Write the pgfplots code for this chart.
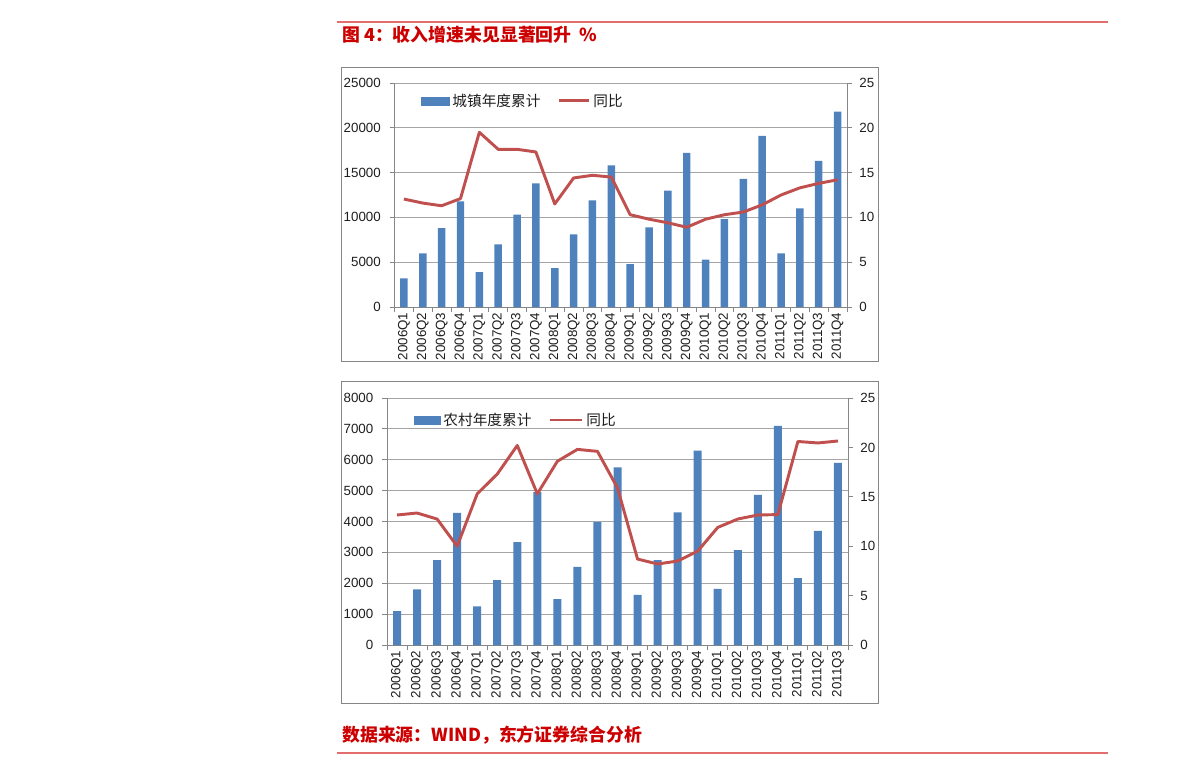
\documentclass[border=0pt]{standalone}
\usepackage{pgfplots}
\pgfplotsset{compat=1.18}
\usepackage{pgfplotstable}
\usepackage{fontspec}
\setmainfont{Liberation Sans}
\newfontfamily\cjk{Noto Sans CJK SC}

\definecolor{barblue}{RGB}{79,129,189}
\definecolor{linered}{RGB}{192,80,77}
\definecolor{titlered}{RGB}{204,0,0}
\definecolor{rulered}{RGB}{228,110,110}
\definecolor{framegray}{RGB}{134,134,134}
\definecolor{gridgray}{RGB}{165,165,165}
\definecolor{labelgray}{RGB}{30,30,30}

\pgfplotstableread{
x val yoy
0 3200 12.05
1 6000 11.6
2 8800 11.3
3 11800 12.1
4 3900 19.5
5 7000 17.6
6 10300 17.6
7 13800 17.3
8 4350 11.5
9 8100 14.4
10 11900 14.7
11 15800 14.5
12 4800 10.3
13 8900 9.8
14 13000 9.4
15 17200 8.9
16 5300 9.8
17 9800 10.3
18 14300 10.6
19 19100 11.4
20 6000 12.5
21 11000 13.3
22 16300 13.8
23 21800 14.2
}\urban

\pgfplotstableread{
x val yoy
0 1100 13.16
1 1800 13.36
2 2750 12.75
3 4280 10.0
4 1250 15.3
5 2100 17.3
6 3330 20.2
7 4950 15.3
8 1490 18.6
9 2530 19.8
10 3980 19.6
11 5750 15.9
12 1620 8.7
13 2750 8.2
14 4300 8.5
15 6300 9.5
16 1820 11.9
17 3070 12.75
18 4860 13.16
19 7100 13.2
20 2170 20.6
21 3700 20.45
22 5900 20.65
}\rural

\pgfplotsset{
  excelbase/.style={
    scale only axis,
    xmin=-0.5,
    tick align=outside,
    axis line style={framegray, line width=0.75pt},
    every tick/.style={framegray, line width=0.75pt},
    major tick length=3.75pt,
    minor tick length=3.75pt,
    tick label style={font=\fontsize{10}{12}\selectfont, text=labelgray},
    /pgf/number format/assume math mode=true,
    /pgf/number format/set thousands separator={},
    scaled y ticks=false,
    clip=false,
  },
  barsaxis/.style={
    excelbase,
    ymin=0,
    axis x line*=bottom,
    axis y line*=left,
    ymajorgrids,
    grid style={gridgray, line width=0.6pt},
    xtick={0,...,23},
    major x tick style={draw=none},
    x tick label style={rotate=90, anchor=east, xshift=3pt},
    y tick label style={xshift=-3pt},
  },
  lineaxis/.style={
    excelbase,
    ymin=0, ymax=25,
    ytick={0,5,...,25},
    axis y line*=right,
    hide x axis,
    y tick label style={xshift=2pt},
    legend columns=2,
    legend style={draw=none, fill=none, inner sep=0pt,
      font=\cjk\fontsize{11}{13}\selectfont, text=labelgray,
      /tikz/every even column/.append style={column sep=11pt}},
  },
}

\begin{document}
\begin{tikzpicture}
\useasboundingbox (0pt,0pt) rectangle (893.25pt,-573.75pt);

% header and footer
\draw[rulered, line width=1.1pt] (252.75pt,-16.5pt) -- (831pt,-16.5pt);
\draw[rulered, line width=1.1pt] (252.75pt,-564.75pt) -- (831pt,-564.75pt);
\node[anchor=west, inner sep=0pt, text=titlered, font=\cjk\bfseries\fontsize{13.4}{15}\selectfont] at (256.5pt,-26.25pt) {图 4：收入增速未见显著回升\ \ \%};
\node[anchor=west, inner sep=0pt, text=titlered, font=\cjk\bfseries\fontsize{13.4}{15}\selectfont] at (256.5pt,-551.25pt) {数据来源：WIND，东方证券综合分析};

% chart frames
\draw[framegray, line width=0.75pt] (255.75pt,-50.25pt) rectangle (658.5pt,-270.75pt);
\draw[framegray, line width=0.75pt] (255.75pt,-285.75pt) rectangle (658.5pt,-527.25pt);

% ---------- top chart ----------
\begin{axis}[barsaxis,
  at={(295.875pt,-230.25pt)}, anchor=south west,
  width=339.375pt, height=168pt,
  xmax=23.5, ymax=25000, ytick={0,5000,...,25000},
  minor xtick={-0.5,0.5,...,23.5},
  xticklabels={2006Q1,2006Q2,2006Q3,2006Q4,2007Q1,2007Q2,2007Q3,2007Q4,2008Q1,2008Q2,2008Q3,2008Q4,2009Q1,2009Q2,2009Q3,2009Q4,2010Q1,2010Q2,2010Q3,2010Q4,2011Q1,2011Q2,2011Q3,2011Q4},
  ybar, bar width=5.6pt]
\addplot[fill=barblue, draw=none] table[x=x, y=val] {\urban};
\end{axis}
\begin{axis}[lineaxis,
  at={(295.875pt,-230.25pt)}, anchor=south west,
  width=339.375pt, height=168pt,
  xmax=23.5,
  legend style={at={(0.0586,0.92)}, anchor=west}]
\addlegendimage{legend image code/.code={\fill[barblue] (0pt,-3pt) rectangle (21pt,3pt);}}
\addlegendentry{城镇年度累计}
\addplot[linered, line width=2.2pt, line join=round, legend image code/.code={\draw[linered, line width=2.2pt] (0pt,0pt) -- (22.5pt,0pt);}] table[x=x, y=yoy] {\urban};
\addlegendentry{同比}
\end{axis}

% ---------- bottom chart ----------
\begin{axis}[barsaxis,
  at={(290.25pt,-483.75pt)}, anchor=south west,
  width=345.75pt, height=185.25pt,
  xmax=22.5, ymax=8000, ytick={0,1000,...,8000},
  xtick={0,...,22},
  minor xtick={-0.5,0.5,...,22.5},
  xticklabels={2006Q1,2006Q2,2006Q3,2006Q4,2007Q1,2007Q2,2007Q3,2007Q4,2008Q1,2008Q2,2008Q3,2008Q4,2009Q1,2009Q2,2009Q3,2009Q4,2010Q1,2010Q2,2010Q3,2010Q4,2011Q1,2011Q2,2011Q3},
  ybar, bar width=6pt]
\addplot[fill=barblue, draw=none] table[x=x, y=val] {\rural};
\end{axis}
\begin{axis}[lineaxis,
  at={(290.25pt,-483.75pt)}, anchor=south west,
  width=345.75pt, height=185.25pt,
  xmax=22.5,
  legend style={at={(0.0586,0.911)}, anchor=west}]
\addlegendimage{legend image code/.code={\fill[barblue] (0pt,-3pt) rectangle (19.5pt,3pt);}}
\addlegendentry{农村年度累计}
\addplot[linered, line width=2.2pt, line join=round, legend image code/.code={\draw[linered, line width=2.2pt] (0pt,0pt) -- (24pt,0pt);}] table[x=x, y=yoy] {\rural};
\addlegendentry{同比}
\end{axis}
\end{tikzpicture}
\end{document}
